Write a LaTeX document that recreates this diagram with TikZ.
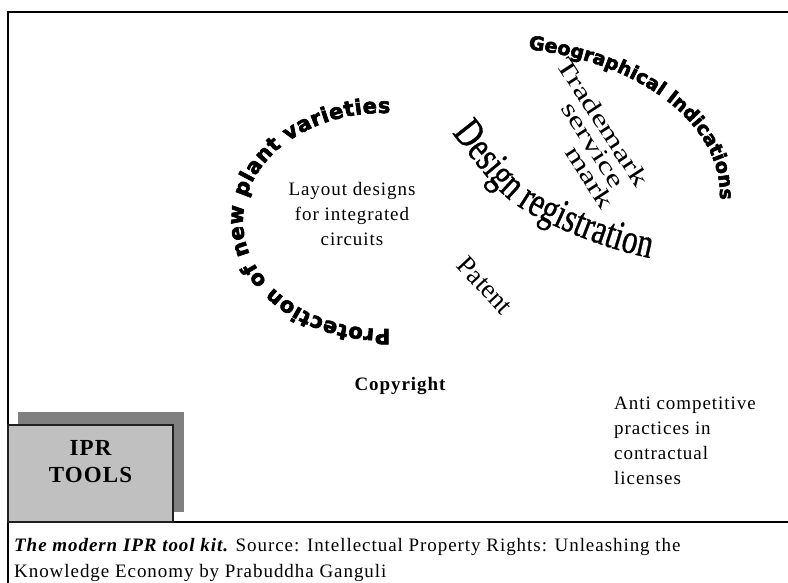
\documentclass[tikz,border=0pt]{standalone}
\usepackage{fontspec}
\usetikzlibrary{decorations.text}
\newfontfamily\bodyfont[LetterSpace=5]{Liberation Serif}
\newfontfamily\arcfont[FakeBold=3]{DejaVu Sans}
\newfontfamily\condfont[FakeStretch=0.74,FakeBold=0.8]{Liberation Serif}
\newfontfamily\wordfont{Liberation Serif}
\definecolor{boxgray}{HTML}{C0C0C0}
\definecolor{shadowgray}{HTML}{808080}
\definecolor{edgegray}{HTML}{202020}
\tikzset{
  frameline/.style={line width=2pt, black},
  plain/.style={inner sep=0pt, font=\bodyfont\fontsize{19}{25}\selectfont},
  wideword/.style={inner sep=0pt, rotate=-57, font=\wordfont\fontsize{24}{24}\selectfont},
}
\newcommand{\widen}[1]{\scalebox{1.42}[1]{#1}}
\begin{document}
\begin{tikzpicture}[x=1pt,y=-1pt]
\useasboundingbox (0,0) rectangle (788,583);
\fill[white] (0,0) rectangle (788,583);
% frame
\draw[frameline] (8,583) -- (8,12) -- (788,12);
\draw[frameline] (8,522) -- (788,522);
% IPR tools box
\fill[shadowgray] (18,412) rectangle (184,512);
\filldraw[fill=boxgray, draw=edgegray, line width=1.5pt] (8,425) rectangle (173,522);
\node[inner sep=0pt, align=center, font=\bodyfont\bfseries\fontsize{23}{27}\selectfont] (ipr) at (90.5,462) {IPR\\TOOLS};
% curved word-art
\path[decorate, decoration={text along path,
  text={|\arcfont\bfseries\fontsize{21}{21}\selectfont|Protection of new plant varieties},
  text align={fit to path}}]
  (383,221) ++(87:140 and 108) arc[start angle=87, end angle=273, x radius=140, y radius=108];
\path[decorate, decoration={text along path,
  text={|\arcfont\bfseries\fontsize{19}{19}\selectfont|Geographical Indications},
  text align={fit to path}}]
  (488,195) ++(-80:232 and 148) arc[start angle=-80, end angle=1, x radius=232, y radius=148];
\path[decorate, decoration={text along path,
  text={|\condfont\fontsize{42}{42}\selectfont|Design registration},
  text align={fit to path}}]
  (452,133) .. controls (480,168) and (495,190) .. (515,204) .. controls (540,222) and (600,248) .. (650,258);
% trademark block
\node[wideword] (tm) at (603,122) {\widen{Trademark}};
\node[wideword] (sv) at (593,145) {\widen{service}};
\node[wideword] (mk) at (590,177) {\widen{mark}};
\node[inner sep=0pt, rotate=-47, font=\wordfont\fontsize{27}{27}\selectfont] (pat) at (485,285) {Patent};
% plain texts
\node[plain, align=center] (layout) at (352,214) {Layout designs\\for integrated\\circuits};
\node[plain, font=\bodyfont\bfseries\fontsize{19}{25}\selectfont] (copy) at (400,386) {Copyright};
\node[plain, align=left, anchor=west] (anti) at (614,441) {Anti competitive\\practices in\\contractual\\licenses};
% caption
\node[plain, anchor=base west] (cap1) at (14,551) {{\bfseries\itshape The modern IPR tool kit.} Source: Intellectual Property Rights: Unleashing the};
\node[plain, anchor=base west] (cap2) at (14,577) {Knowledge Economy by Prabuddha Ganguli};
\end{tikzpicture}
\end{document}
